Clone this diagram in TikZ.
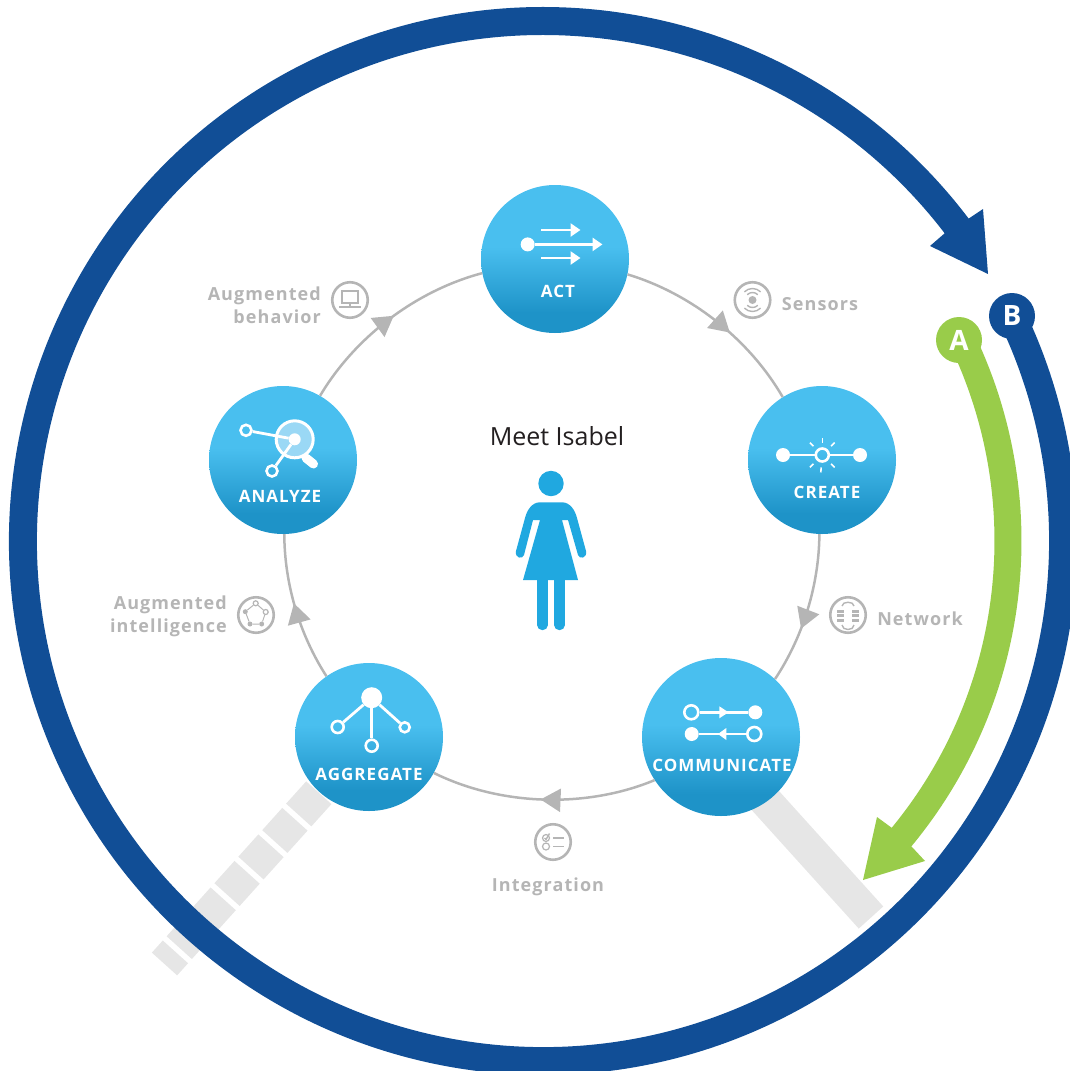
\documentclass[tikz,border=0pt]{standalone}
\usepackage{fontspec}
\setmainfont{Open Sans}
\newfontfamily\spacedfont[LetterSpace=6]{Open Sans}
\usetikzlibrary{arrows.meta}
\usetikzlibrary{backgrounds}
\usetikzlibrary{decorations.markings}
\definecolor{ringblue}{RGB}{17,78,150}
\definecolor{ringgreen}{RGB}{153,204,74}
\definecolor{nodelight}{RGB}{73,191,239}
\definecolor{nodedark}{RGB}{30,147,200}
\definecolor{persona}{RGB}{32,168,224}
\definecolor{softgray}{RGB}{181,181,181}
\definecolor{barbgray}{RGB}{230,230,230}
\definecolor{lenslight}{RGB}{154,216,245}
\pgfdeclareverticalshading{nodefade}{100bp}{color(0bp)=(nodedark); color(32bp)=(nodedark); color(54bp)=(nodelight); color(100bp)=(nodelight)}
\tikzset{
    >=latex,
    stepnode/.style={circle, minimum size=#1, inner sep=0pt, shading=nodefade},
    steptext/.style={text=white, font=\spacedfont\fontsize{17}{19}\selectfont\bfseries},
    sidetext/.style={text=softgray, font=\spacedfont\fontsize{18}{23}\selectfont\bfseries, align=right, inner sep=0pt},
    sideicon/.style={circle, draw=softgray, line width=2.6pt, minimum size=35.5pt, inner sep=0pt},
    ringlink/.style={draw=softgray, line width=2.5pt, looseness=0.86, postaction={decorate}},
    midtip/.style={decoration={markings, mark=at position #1 with {\arrow{Triangle[length=20pt,width=23pt,fill=softgray,color=softgray]}}}},
    lettermark/.style={circle, minimum size=46pt, inner sep=0pt, text=white, font=\fontsize{28}{30}\selectfont\bfseries},
    whitedot/.style={circle, fill=white, inner sep=0pt, minimum size=#1},
    whitering/.style={circle, draw=white, line width=2.6pt, inner sep=0pt, minimum size=#1},
    iconline/.style={draw=white, line width=2.8pt},
    grayline/.style={draw=softgray, line width=1.4pt},
    graydot/.style={circle, fill=softgray, inner sep=0pt, minimum size=#1},
    grayring/.style={circle, draw=softgray, line width=1.2pt, fill=white, inner sep=0pt, minimum size=#1},
}
\begin{document}
\begin{tikzpicture}[x=1pt, y=-1pt]
    \useasboundingbox (0, 0) rectangle (1070, 1071);
    % the five steps
    \node[stepnode=148pt] (act) at (555, 259) {};
    \node[stepnode=148pt] (create) at (822, 460) {};
    \node[stepnode=158pt] (communicate) at (721, 737) {};
    \node[stepnode=148pt] (aggregate) at (369, 737) {};
    \node[stepnode=148pt] (analyze) at (283, 460) {};
    \node[steptext] (acttext) at (558, 291) {ACT};
    \node[steptext] (createtext) at (827, 492) {CREATE};
    \node[steptext] (communicatetext) at (722, 765) {COMMUNICATE};
    \node[steptext] (aggregatetext) at (369, 774) {AGGREGATE};
    \node[steptext] (analyzetext) at (280, 496) {ANALYZE};

    \coordinate (commstart) at (708, 737);
    \coordinate (commend) at (871, 917.5);
    \coordinate (aggend) at (164.5, 964);
    \begin{scope}[on background layer]
        \draw[barbgray, line width=33pt] (commstart) -- (commend);
        \draw[barbgray, line width=34pt, dash pattern=on 30pt off 5.7pt, dash phase=32.1pt] (aggregate.center) -- (aggend);
    \end{scope}
    \draw[ringlink, midtip=0.586] (act.-12) to[bend left=21.6] (create.122);
    \draw[ringlink, midtip=0.63] (create.-92) to[bend left=16.5] (communicate.47);
    \draw[ringlink, midtip=0.513] (communicate.213) to[bend left=24.4] (aggregate.-29);
    \draw[ringlink, midtip=0.534] (aggregate.125.6) to[bend left=16.3] (analyze.-89);
    \draw[ringlink, midtip=0.526] (analyze.60) to[bend left=22.2] (act.191.8);

    % outer arrows
    \coordinate (hub) at (543, 541);
    \draw[ringblue, line width=28pt] (hub) ++(-25.5:520) arc[start angle=-25.5, end angle=323.5, radius=520];
    \fill[ringblue] (983, 209) -- (988, 274) -- (930, 246) -- (945, 233) -- (968, 219) -- cycle;
    \draw[ringgreen, line width=27pt] (hub) ++(-25.5:465) arc[start angle=-25.5, end angle=40.5, radius=465];
    \fill[ringgreen] (877, 817) -- (892, 828) -- (912, 847) -- (925, 861) -- (863, 880) -- cycle;
    \node[lettermark, fill=ringblue] (bmark) at (1012, 316) {B};
    \node[lettermark, fill=ringgreen] (amark) at (959, 340) {A};

    % middle figure
    \node[text={rgb,255:red,35;green,31;blue,32}, font=\fontsize{25}{28}\selectfont] (meet) at (557, 436) {Meet Isabel};
    \fill[persona] (551, 483.5) circle[radius=12.7];
    \fill[persona] (540, 502.3) -- (562, 502.3) .. controls (570, 502.3) and (575, 510) .. (577, 518)
        -- (586, 551) .. controls (587.5, 558) and (579.5, 560) .. (578, 555)
        -- (568, 520) -- (562, 520) -- (578, 580) -- (523, 580) -- (540, 520) -- (533, 520)
        -- (524, 555) .. controls (522.5, 560) and (514.5, 558) .. (516, 551)
        -- (525, 518) .. controls (527, 510) and (532, 502.3) .. (540, 502.3) -- cycle;
    \draw[persona, line width=10.4pt, line cap=round] (542.5, 578) -- (542.5, 625);
    \draw[persona, line width=10.4pt, line cap=round] (559.5, 578) -- (559.5, 625);

    % act icon
    \node[whitedot=14pt] (actdot) at (527.7, 244.4) {};
    \draw[iconline, -{Triangle[length=10pt,width=13pt]}] (actdot) -- (602.5, 244.4);
    \draw[iconline, -{Triangle[length=10pt,width=13pt]}] (541, 230) -- (580.5, 230);
    \draw[iconline, -{Triangle[length=10pt,width=13pt]}] (541, 258) -- (580.5, 258);

    % create icon
    \node[whitedot=14pt] (createleft) at (783, 455) {};
    \node[whitedot=14pt] (createright) at (860, 455) {};
    \node[whitering=13pt] (createsun) at (822.3, 455) {};
    \draw[iconline] (createleft) -- (createsun);
    \draw[iconline] (createsun) -- (createright);
    \foreach \a in {-135, -90, -45, 45, 95, 135} {
        \draw[white, line width=1.6pt] (createsun) ++(\a:12.5) -- ++(\a:5);
    }

    % communicate icon
    \node[whitering=14pt] (commtopleft) at (691.3, 712.3) {};
    \node[whitedot=14pt] (commtopright) at (755.3, 712.3) {};
    \node[whitedot=14pt] (commlowleft) at (691.7, 734) {};
    \node[whitering=14pt] (commlowright) at (754.3, 734) {};
    \draw[iconline] (commtopleft) -- (commtopright);
    \draw[iconline] (commlowright) -- (commlowleft);
    \fill[white] (719.3, 706.3) -- (728.5, 712.3) -- (719.3, 718.3) -- cycle;
    \fill[white] (726.3, 728) -- (718, 734) -- (726.3, 740) -- cycle;

    % aggregate icon
    \node[whitedot=21pt] (agghub) at (371.7, 697.7) {};
    \node[whitering=12pt] (aggleft) at (337.7, 727) {};
    \node[whitering=12pt] (aggmid) at (371.7, 745.7) {};
    \node[whitering=10pt] (aggright) at (404.7, 727.3) {};
    \draw[iconline] (agghub) -- (aggleft);
    \draw[iconline] (agghub) -- (aggmid);
    \draw[iconline] (agghub) -- (aggright);

    % analyze icon
    \draw[white, line width=9pt, line cap=round] (306, 458) -- (313.5, 464);
    \node[circle, fill=lenslight, draw=white, line width=3pt, inner sep=0pt, minimum size=37pt] (lens) at (294.7, 439.3) {};
    \node[whitedot=12pt] (lensdot) at (294.7, 439.3) {};
    \node[whitering=11pt] (analyzeleft) at (246, 430.3) {};
    \node[whitering=11pt] (analyzelow) at (272, 471) {};
    \draw[iconline] (lensdot) -- (analyzeleft);
    \draw[iconline] (lensdot) -- (analyzelow);

    % side labels
    \node[sidetext] (sensorstext) at (820, 304.5) {Sensors};
    \node[sidetext] (networktext) at (920, 619) {Network};
    \node[sidetext] (integrationtext) at (548, 887) {Integration};
    \node[sidetext, anchor=east] (intelligencetext) at (227, 616) {Augmented\\intelligence};
    \node[sidetext, anchor=east] (behaviortext) at (321, 305) {Augmented\\behavior};
    \node[sideicon] (sensorsicon) at (752.5, 300) {};
    \node[sideicon] (networkicon) at (848, 615) {};
    \node[sideicon] (integrationicon) at (553, 842) {};
    \node[sideicon] (intelligenceicon) at (256, 615) {};
    \node[sideicon] (behavioricon) at (350, 300) {};

    % sensors glyph
    \fill[softgray] (sensorsicon.center) circle[radius=4];
    \foreach \r in {7.5, 11.5} {
        \draw[grayline] (sensorsicon.center) ++(-135:\r) arc[start angle=-135, end angle=-45, radius=\r];
        \draw[grayline] (sensorsicon.center) ++(45:\r) arc[start angle=45, end angle=135, radius=\r];
    }
    % network glyph
    \foreach \x in {840.5, 855.5} {
        \foreach \y in {609.5, 614, 618.5} {
            \fill[softgray] (\x-3.5, \y) rectangle (\x+3.5, \y+3);
        }
    }
    \draw[grayline] (842, 606) .. controls (842, 601) and (854, 601) .. (854, 606);
    \draw[grayline] (842, 625) .. controls (842, 631) and (854, 631) .. (854, 625);
    % integration glyph
    \node[grayring=7pt] (checktop) at (546, 838) {};
    \node[grayring=7pt] (checklow) at (546, 846.5) {};
    \draw[grayline] (544.5, 838) -- (546, 839.5) -- (549.5, 833.5);
    \draw[softgray, line width=1.8pt] (553, 838) -- (564, 838);
    \draw[softgray, line width=1.8pt] (553, 846.5) -- (564, 846.5);
    % intelligence glyph
    \node[graydot=5pt] (fivea) at (261.7, 624) {};
    \node[graydot=5pt] (fiveb) at (250, 624) {};
    \node[graydot=5pt] (fivec) at (245.3, 611.7) {};
    \node[grayring=5pt] (fived) at (255.7, 603.3) {};
    \node[grayring=5pt] (fivee) at (265.7, 612) {};
    \draw[softgray, line width=1pt] (fivea) -- (fiveb) -- (fivec) -- (fived) -- (fivee) -- (fivea);
    % behavior glyph
    \draw[softgray, line width=2pt] (341.5, 291) rectangle (358, 302.5);
    \draw[softgray, line width=2pt] (349.7, 302.5) -- (349.7, 306);
    \draw[softgray, line width=2.6pt] (339, 307) -- (361, 307);
\end{tikzpicture}
\end{document}
